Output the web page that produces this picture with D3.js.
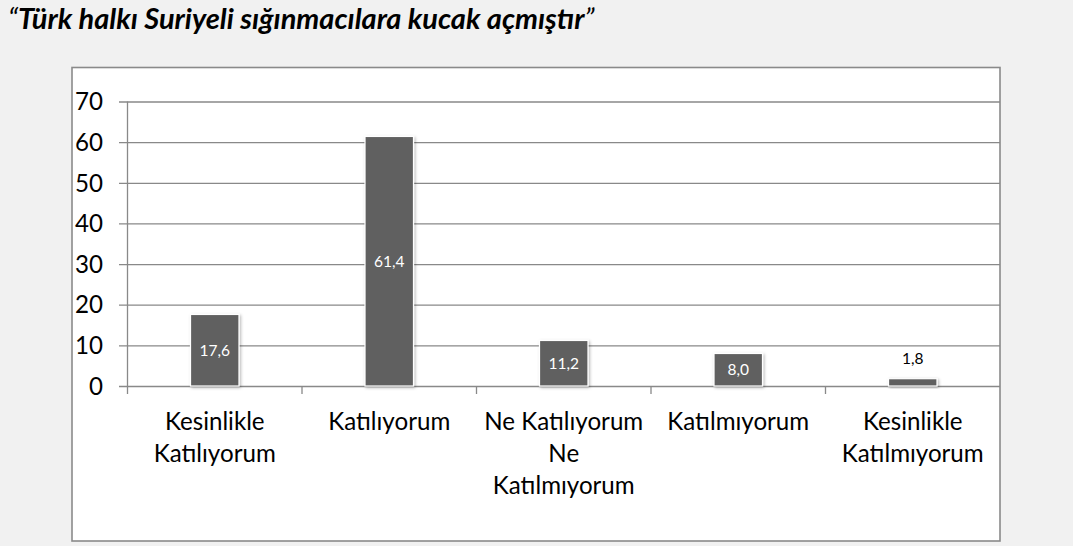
<!DOCTYPE html>
<html><head><meta charset="utf-8">
<script src="https://cdn.jsdelivr.net/npm/d3@7"></script>
<style>
html,body{margin:0;padding:0;background:#f1f1f1;}
svg{display:block;}
</style></head><body>
<svg id="chart" width="1073" height="546"></svg>
<script>
const title = "Türk halkı Suriyeli sığınmacılara kucak açmıştır";
const categories = ["Kesinlikle Katılıyorum", "Katılıyorum", "Ne Katılıyorum Ne Katılmıyorum", "Katılmıyorum", "Kesinlikle Katılmıyorum"];
const values = [17.6, 61.4, 11.2, 8.0, 1.8];
const yTicks = [0, 10, 20, 30, 40, 50, 60, 70];

const W = 1073, H = 546;
const FONT = "Lato, 'Open Sans', sans-serif";
const GRID = "#898989";
const svg = d3.select("#chart");

function measure(text, size, weight, style) {
  const t = svg.append("text").attr("font-family", FONT).attr("font-size", size)
    .attr("font-weight", weight || "normal").attr("font-style", style || "normal").text(text);
  const w = t.node().getComputedTextLength();
  t.remove();
  return w;
}
function fit(text, target, weight, style) {
  return 100 * target / measure(text, 100, weight, style);
}

svg.append("rect").attr("width", W).attr("height", H).attr("fill", "#f1f1f1");

const defs = svg.append("defs");
const f = defs.append("filter").attr("id", "sh").attr("x", "-30%").attr("y", "-30%").attr("width", "160%").attr("height", "160%");
f.append("feDropShadow").attr("dx", 1.2).attr("dy", 1.2).attr("stdDeviation", 1.4)
  .attr("flood-color", "#000").attr("flood-opacity", 0.3);

// Title
const titleSize = fit("\u201C" + title + "\u201D", 588, "bold", "italic");
const tt = svg.append("text").attr("x", 8).attr("y", 28.5).attr("font-family", FONT)
  .attr("font-size", titleSize).attr("font-style", "italic").attr("fill", "#000");
tt.append("tspan").text("\u201C");
tt.append("tspan").attr("font-weight", "bold").text(title);
tt.append("tspan").text("\u201D");

// Frame
svg.append("rect").attr("x", 72).attr("y", 67.5).attr("width", 928).attr("height", 473.5)
  .attr("fill", "#fff").attr("stroke", "#8a8a8a").attr("stroke-width", 1.6);

const x = d3.scaleBand().domain(categories).range([127.5, 1000]);
const y = d3.scaleLinear().domain([0, 70]).range([386, 101.5]);

const axisSize = fit("Ne Katılıyorum", 159);

// Gridlines + y ticks
const grid = svg.append("g").attr("transform", "translate(119,0)")
  .call(d3.axisLeft(y).tickValues(yTicks).tickSize(-(1000 - 119)).tickFormat(""));
grid.select(".domain").remove();
grid.selectAll("line").attr("stroke", GRID).attr("stroke-width", 1.3);

// y labels
const yl = svg.append("g").attr("transform", "translate(103,0)")
  .call(d3.axisLeft(y).tickValues(yTicks).tickSize(0).tickPadding(0));
yl.select(".domain").remove();
yl.selectAll("text").attr("font-family", FONT).attr("font-size", axisSize)
  .attr("fill", "#000").attr("dy", "0.34em");

// y axis line
svg.append("line").attr("x1", 127.5).attr("x2", 127.5).attr("y1", y(70)).attr("y2", 394)
  .attr("stroke", GRID).attr("stroke-width", 1.3);

// x axis ticks
const xa = svg.append("g").attr("transform", "translate(0,386)")
  .call(d3.axisBottom(x).tickSize(0).tickFormat(""));
xa.select(".domain").remove();
const bounds = d3.range(1, categories.length).map(i => x(categories[i]));
svg.append("g").selectAll("line").data(bounds).join("line")
  .attr("x1", d => d).attr("x2", d => d).attr("y1", 386).attr("y2", 394)
  .attr("stroke", GRID).attr("stroke-width", 1.3);

// Category labels (wrapped)
const maxW = x.bandwidth() * 0.95;
categories.forEach((c, i) => {
  const words = c.split(" ");
  const lines = [];
  let cur = "";
  words.forEach(w => {
    const test = cur ? cur + " " + w : w;
    if (cur && measure(test, axisSize) > maxW) { lines.push(cur); cur = w; }
    else cur = test;
  });
  if (cur) lines.push(cur);
  const t = svg.append("text").attr("font-family", FONT).attr("font-size", axisSize)
    .attr("fill", "#000").attr("text-anchor", "middle");
  lines.forEach((l, j) => {
    t.append("tspan").attr("x", x(c) + x.bandwidth() / 2).attr("y", 430 + j * 32).text(l);
  });
});

// Bars
const bw = x.bandwidth() / 3.6;
const data = categories.map((c, i) => ({ c, v: values[i] }));
svg.append("g").selectAll("rect").data(data).join("rect")
  .attr("x", d => x(d.c) + x.bandwidth() / 2 - bw / 2)
  .attr("y", d => y(d.v))
  .attr("width", bw)
  .attr("height", d => y(0) - y(d.v))
  .attr("fill", "#606060")
  .attr("stroke", "#fff").attr("stroke-width", 1.2)
  .attr("filter", "url(#sh)");

// Data labels
const fmt = v => v.toFixed(1).replace(".", ",");
svg.append("g").selectAll("text").data(data).join("text")
  .attr("x", d => x(d.c) + x.bandwidth() / 2)
  .attr("y", d => (y(0) - y(d.v)) > 20 ? (y(d.v) + y(0)) / 2 : y(d.v) - 14.5)
  .attr("dy", d => (y(0) - y(d.v)) > 20 ? "0.35em" : "0")
  .attr("text-anchor", "middle")
  .attr("font-family", FONT).attr("font-size", 15.5)
  .attr("fill", d => (y(0) - y(d.v)) > 20 ? "#fff" : "#000")
  .text(d => fmt(d.v));
</script>
</body></html>
